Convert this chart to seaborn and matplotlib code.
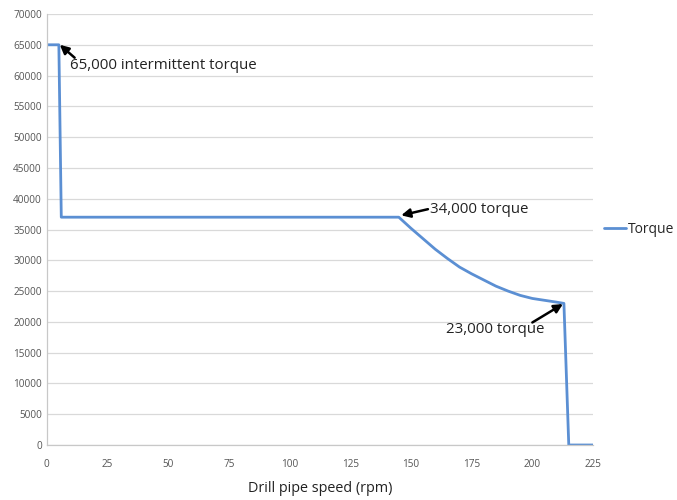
import matplotlib
matplotlib.use('Agg')
import matplotlib.pyplot as plt
import seaborn as sns
import pandas as pd

# drill pipe speed (rpm) vs torque
speed = [0, 5, 6, 145, 150, 155, 160, 165, 170, 175, 180, 185, 190, 195, 200, 205, 210, 213, 215, 225]
torque = [65000, 65000, 37000, 37000, 35200, 33500, 31800, 30300, 28900, 27800, 26800, 25800, 25000,
          24300, 23800, 23500, 23200, 23000, 0, 0]

xticks = list(range(0, 226, 25))
yticks = list(range(0, 70001, 5000))

df = pd.DataFrame({'speed': speed, 'Torque': torque})

sns.set_style('white')
plt.rcParams['font.family'] = ['Open Sans', 'DejaVu Sans']

fig = plt.figure(figsize=(6.77, 5), dpi=100)
ax = fig.add_axes([0.069, 0.11, 0.807, 0.862])

sns.lineplot(data=df, x='speed', y='Torque', ax=ax, color='#5b8fd3', lw=2,
             label='Torque', sort=False)

ax.set_xlim(0, 225)
ax.set_ylim(0, 70000)
ax.set_xticks(xticks)
ax.set_yticks(yticks)
ax.tick_params(axis='both', labelsize=7.2, labelcolor='#555555', length=0)
ax.tick_params(axis='x', length=3, color='#bbbbbb', direction='out', pad=7)
ax.yaxis.grid(True, color='#d9d9d9', lw=0.9)
ax.xaxis.grid(False)
for s in ['top', 'right']:
    ax.spines[s].set_visible(False)
for s in ['left', 'bottom']:
    ax.spines[s].set_color('#c8c8c8')
    ax.spines[s].set_linewidth(0.9)

ax.set_xlabel('Drill pipe speed (rpm)', fontsize=10.4, color='#222222', labelpad=8)
ax.set_ylabel('')

# labels
ax.text(9.5, 61700, '65,000 intermittent torque', fontsize=10.8, color='#222222', va='center', ha='left')
ax.text(158, 38200, '34,000 torque', fontsize=10.8, color='#222222', va='center', ha='left')
ax.text(205, 18800, '23,000 torque', fontsize=10.8, color='#222222', va='center', ha='right')

# arrows
arrow = dict(arrowstyle='-|>', color='black', lw=1.8, mutation_scale=13, shrinkA=0, shrinkB=0)
ax.annotate('', xy=(5.4, 65000), xytext=(11.5, 62900), arrowprops=arrow)
ax.annotate('', xy=(146, 37300), xytext=(157, 38300), arrowprops=arrow)
ax.annotate('', xy=(212.6, 22900), xytext=(200, 19900), arrowprops=arrow)

ax.legend(loc='center left', bbox_to_anchor=(1.02, 0.5), frameon=False, fontsize=10,
          handlelength=1.6, handletextpad=0.1, borderaxespad=0, borderpad=0)

fig.savefig('out.png', dpi=100)
